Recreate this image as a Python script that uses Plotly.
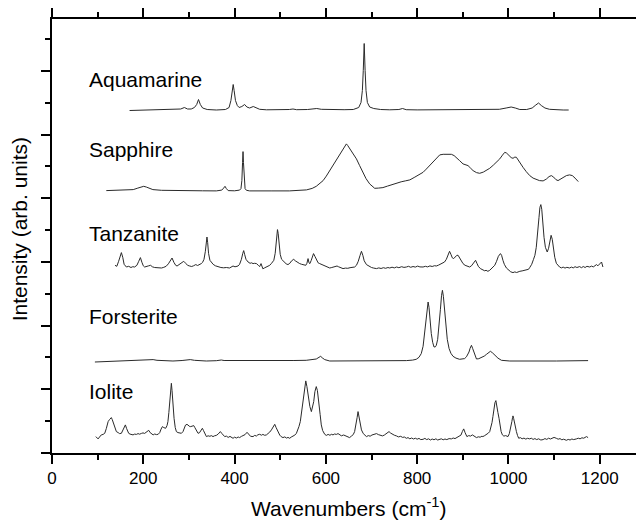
import plotly.graph_objects as go

# ---- data (wavenumber, intensity above each spectrum's own baseline) ----
names = ["Aquamarine", "Sapphire", "Tanzanite", "Forsterite", "Iolite"]
offsets = [342.5, 262.4, 183.7, 91.7, 16.4]
label_y = [374, 304, 220, 137, 62]

aq_x = [170, 200, 240, 270, 282, 290, 297, 305, 312, 317, 321, 325, 330, 340, 360, 380, 388, 392, 395, 397, 399, 402, 406, 410, 416, 422, 427, 433, 441, 447, 455, 470, 500, 520, 528, 536, 560, 572, 580, 590, 610, 640, 660, 672, 677, 680, 682, 684, 686, 688, 691, 696, 705, 720, 740, 760, 768, 776, 800, 850, 900, 950, 980, 995, 1006, 1015, 1025, 1040, 1052, 1060, 1066, 1072, 1080, 1090, 1100, 1120, 1132]
aq_h = [0, 0.3, 0.5, 0.8, 1.5, 3, 1.5, 1.5, 3, 6, 11, 6, 2.5, 1, 0.5, 1, 3, 10, 20, 26, 20, 10, 5, 3, 4, 6, 3.5, 2.5, 4, 2.5, 1.2, 0.7, 0.5, 1, 1.5, 0.8, 1, 1.5, 2, 1.2, 0.8, 0.8, 1, 3, 8, 20, 40, 67, 40, 20, 8, 3.5, 2, 1, 0.7, 1, 2, 0.8, 0.6, 0.6, 0.7, 0.8, 1.2, 2.5, 3.5, 2.5, 1, 1, 2.5, 5.5, 7.5, 5, 2.5, 1.2, 0.8, 0.5, 0.5]

sa_x = [119, 140, 165, 178, 188, 195, 201, 207, 214, 221, 240, 265, 300, 330, 360, 372, 376, 379, 382, 386, 400, 407.6, 411, 414, 416, 417.5, 418.5, 419.5, 421, 423, 426, 433, 480, 520, 557.5, 570, 579, 587, 594, 601, 608.5, 616, 623, 630, 637.6, 642, 645, 648, 652, 660, 667, 674, 681, 688, 696, 702, 707, 715, 725, 735, 742, 745, 747, 755, 765, 775, 784, 795, 805, 813, 820, 827.5, 835, 842, 849.5, 857, 866, 875, 881, 886, 893, 900.5, 906, 911.5, 917, 922.5, 930, 937, 945, 952, 959, 967, 974, 981, 987, 992, 996, 1001.5, 1006, 1010, 1014, 1017.5, 1022, 1027, 1032, 1039, 1046.7, 1054, 1061, 1068, 1076, 1083, 1089, 1094, 1099, 1104, 1108.7, 1114, 1121, 1127, 1134, 1140, 1146, 1153]
sa_h = [0, 0.3, 0.7, 1, 2.5, 3.8, 4.3, 3.5, 2, 1, 0.3, 0, 0, -0.2, -0.3, 0.5, 2.5, 4.3, 2, 0, -0.2, 0, 0.5, 2, 10, 28, 39, 28, 10, 2, 0.3, -0.3, -0.3, -0.3, 0.7, 2.2, 4.3, 7, 10, 14.5, 20, 25, 30, 35.5, 41.7, 45, 46.7, 45, 42.3, 37, 31.7, 25, 18.3, 12, 6.7, 3.8, 2.3, 2.5, 3, 4.5, 5.5, 6.7, 6.2, 7.5, 8.8, 9.8, 10.7, 13.5, 16, 18.3, 21.5, 25, 29, 32.5, 35.7, 36.3, 36.3, 36.3, 35, 33.3, 30, 26.7, 25.5, 25, 22.5, 20, 18, 17.3, 18.5, 20, 22.3, 25.5, 28.5, 31.7, 35.5, 38.3, 37.5, 35, 33, 32.3, 33.5, 33.3, 30, 26.5, 23.3, 19, 15, 12.5, 11, 10, 9.7, 11.5, 14, 15, 13.5, 11, 10, 11.5, 13.5, 15, 15.7, 15, 12.5, 9]

tz_x = [138, 142, 146, 149, 152, 155, 158, 163, 168, 173, 177, 181, 186, 190, 193.7, 197, 200, 203, 207, 212, 216, 220, 225, 230, 235, 240, 245, 250, 255, 259, 263, 267, 271, 274, 278, 283, 288.6, 293, 297, 301.7, 306, 310, 315, 319, 323, 327, 330, 333, 336, 338, 339.5, 341, 343, 346, 349, 353, 358, 364, 370, 376, 382, 389, 393, 396.6, 401, 404, 407.5, 411, 415, 418, 420, 422, 425, 429.6, 434, 437, 440.5, 444, 448, 452, 455, 458, 462, 466, 470, 474, 477, 481, 486, 489, 491, 493, 494, 495.5, 497.5, 500, 503, 505, 509, 513, 517, 521, 525, 529.6, 533, 537, 542.7, 547, 551, 556, 558.5, 561, 563, 565, 568, 571, 573, 576, 580, 583, 586.5, 590, 594, 597.5, 601, 605, 608.5, 613, 618, 621, 624.5, 628, 632, 637.6, 643, 648, 653, 658, 663, 667, 671, 675, 678, 681, 684, 689, 694, 700, 705, 711, 716, 721, 726, 731, 736, 740, 745, 750, 755, 760, 766, 771, 776.5, 781, 786, 791, 796, 801, 806, 813, 818, 823, 828, 833, 838, 842, 847, 851, 856, 860, 864, 868, 871, 874, 877, 880, 884, 887, 889.7, 893, 897, 900.5, 905, 910, 915, 919, 923, 926, 928, 931, 934, 938.6, 943, 948, 951, 955, 959, 963, 967, 970, 974, 978, 982.5, 985, 988, 991, 995.6, 1000, 1005, 1010, 1014, 1018, 1022, 1025, 1030, 1035, 1040, 1044, 1047, 1051, 1055, 1058, 1061, 1064, 1067, 1069, 1071, 1073, 1075, 1078, 1081, 1085, 1088, 1091, 1093.5, 1096, 1098.5, 1101.5, 1105, 1108, 1112, 1116, 1120, 1124, 1128, 1134, 1138, 1142, 1146, 1150, 1156, 1160, 1164, 1168, 1172, 1178, 1182, 1186, 1190, 1193, 1196, 1200, 1204, 1207]
tz_h = [4, 3, 8, 13, 16.7, 12, 5, 2.3, 3, 1.8, 2.6, 2.3, 4, 8, 11.7, 7, 3.5, 2.3, 3.2, 3.5, 4, 2.5, 1.8, 1.5, 1.2, 1.3, 2, 3, 5.5, 9, 11.3, 7, 4, 3.3, 4.5, 6.5, 8, 6, 4, 3.3, 2.8, 3.5, 4.7, 3.8, 4.5, 5.7, 7, 10, 18, 28, 32.3, 27, 16, 9, 7.3, 5, 3.5, 2.3, 1.8, 1.5, 1.8, 1.3, 2.2, 3.3, 2.5, 2.8, 3.3, 5, 10, 16, 18.7, 15, 10, 7.3, 6, 6.5, 5.7, 6, 5.7, 4, 2.7, 5.7, 0.5, 1.5, 2.5, 3.5, 4, 6, 9, 16, 27, 37, 39.7, 36, 25, 15, 10, 9, 6.5, 5.5, 4.7, 6, 8.5, 10, 8.5, 7, 5.7, 5, 4.5, 4, 6, 10.7, 6.5, 5.7, 9, 14, 15.7, 13, 9, 6.5, 5.7, 5, 4.6, 4, 3.2, 2, 1.3, 1.8, 2.5, 3, 3.3, 2.5, 1.6, 0.7, 1.2, 1, 1.6, 2, 2.3, 4, 8, 14, 18, 14, 8.5, 4.7, 3, 1.8, 1.2, 0.7, 1.4, 0.8, 1.6, 1, 1.8, 1.3, 2.1, 1.4, 2.3, 1.6, 2.6, 1.9, 2.3, 3, 2, 2.8, 2.2, 3.2, 2.4, 2.3, 3, 2.4, 3.4, 2.8, 3.6, 3.3, 4.2, 5, 6, 7.3, 10, 15, 18, 15, 11.5, 10.7, 12.5, 14, 14, 11, 8, 5.7, 4, 3, 2.3, 3.5, 6, 8.5, 9, 6, 3, 0.7, -0.5, -1.5, -1, -2, -1, 0.5, 2.5, 4, 8, 13, 15.7, 14, 9, 5, 1.3, -1, -2.5, -3.3, -2.6, -3.2, -2.2, -2, -1.6, -1.2, -0.6, 0, 2, 5, 10, 14, 22, 34, 52, 62, 64.7, 60, 48, 32, 22, 17.3, 21, 30, 34, 30, 21, 12, 6, 4, 2.3, 1.4, 2.2, 1.2, 2, 1.3, 2.2, 1.4, 2.6, 1.8, 2.7, 1.6, 2.8, 1.8, 3, 2.3, 3.2, 2.4, 3.8, 4.7, 3.5, 5.5, 7.3, 2.3]

fo_x = [94, 130, 170, 205, 215, 221.6, 230, 250, 265, 285, 295, 303, 312, 338, 360, 366, 371, 377, 404, 422, 429.5, 440, 484, 530, 557, 570, 579, 585, 588.7, 592, 597.5, 608.5, 650, 703, 740, 776.5, 790, 798, 804, 809, 813, 816.6, 820, 822, 824, 826, 828, 831, 834, 837, 840, 842, 845, 848, 851, 853.5, 855.4, 857.5, 860, 862.6, 866, 870, 874, 878.6, 885, 893, 900, 904, 908, 911, 913.6, 916, 919, 921.5, 924, 927, 930, 935, 941, 947, 952, 956, 960.5, 965, 970, 977, 984.7, 995, 1003, 1105, 1140, 1174.5]
fo_h = [-0.7, 0, 0.5, 1, 1.5, 1.7, 1, 0.5, 0.3, 0.8, 1.3, 1.7, 1, 0.3, 0.6, 1, 1.3, 0.8, 0.7, 0.8, 1, 0.7, 0.7, 0.8, 1, 1.5, 2.3, 4, 5, 3.5, 1.7, 0.3, 0.3, 0.3, 0.5, 0.7, 1.2, 2, 4, 7.7, 15, 31, 48, 56, 59.3, 54, 42, 27.7, 19, 14.3, 14.5, 16, 22, 34.3, 52, 66, 71, 65, 50, 37.7, 22, 12.7, 8, 5, 3.2, 2, 2.2, 2.7, 4.5, 7, 9.3, 13, 16, 13, 9.3, 5, 2.3, 2.6, 3.7, 5.2, 7, 8.8, 10, 8.5, 6, 3.2, 1, 0.5, 0.3, 0.3, 0.4, 0.7]

io_x = [96, 98, 101, 104, 108, 112, 115.5, 119, 123, 126, 128, 130, 132, 135, 138, 141, 145, 148, 152, 155, 158, 160.8, 163.5, 166, 168, 171, 174, 177.5, 181, 185, 188.5, 192, 196, 199.4, 203, 207, 211.9, 215, 218, 221.6, 225, 229, 232.6, 236, 239, 241.9, 245, 249, 252, 254, 256, 258, 260, 261.5, 263, 265, 267.4, 270, 272.5, 276, 280, 283.5, 287, 290, 292.5, 295.8, 299, 302, 304, 307, 310.5, 313, 316, 320, 323, 326, 329.5, 332, 335, 338.3, 342, 346, 349, 352.8, 356, 360, 364, 368.9, 372, 375, 378.4, 382, 386, 390, 393, 396.6, 400, 404, 408, 411, 415, 419, 423, 427.3, 431, 435, 440.5, 444, 448, 451, 455, 459, 462, 466, 469.8, 473, 477, 480.7, 484, 488, 491, 495.3, 499, 502, 506, 510, 514, 517, 520.8, 524, 528, 532, 535.5, 538, 541, 544, 547, 550, 553, 556, 558.5, 560.5, 562.5, 565, 568.3, 571, 573.4, 576, 579, 581.5, 585, 587.5, 590, 593, 597.5, 601, 605, 609, 612, 615.7, 619, 623, 626.7, 630.4, 634, 639, 645, 649, 652, 656, 660, 663, 666, 668.5, 670.5, 672.5, 675, 678, 682, 685, 689, 693, 697, 701, 706, 711, 715, 719, 724, 728, 732, 735, 738.4, 742, 746, 750, 754.6, 759, 764, 768, 772, 776.5, 780, 784, 788, 792, 796, 800, 804, 808, 813, 817, 821, 825, 829, 833, 837, 841, 845, 849.5, 853, 857, 861, 865, 870, 875, 879, 883, 888, 893, 896, 899, 902, 905, 909, 913, 917, 921, 925, 930, 934, 938, 942, 944, 948, 952, 956, 959, 962, 964, 966, 968, 970.5, 972.5, 974.5, 977, 979.4, 982, 984, 986.8, 990, 994, 999, 1002, 1004, 1005.7, 1007.5, 1009, 1010, 1011.5, 1013, 1015.3, 1017.5, 1020, 1022.6, 1026, 1030, 1034, 1038, 1042, 1046.7, 1050, 1054, 1058, 1062, 1066, 1071, 1076, 1080, 1084, 1088, 1092, 1096, 1100, 1105, 1109, 1113, 1117, 1121, 1127, 1131, 1135, 1139, 1143, 1149, 1153, 1157, 1161, 1165, 1168, 1171, 1174.5]
io_h = [0, -1, -2.3, -0.5, 1.7, 2.2, 3.3, 8, 15, 17, 18, 19, 17, 13.3, 8, 5, 4, 3, 3.3, 6, 9.5, 11.7, 8, 4.5, 3.3, 2.5, 1.8, 1.7, 2.5, 2.2, 3, 2.4, 3.2, 3.7, 3.2, 4.5, 6.3, 4, 2.5, 1.7, 2.6, 2, 2.3, 4, 7.5, 10, 9, 8.3, 11, 15, 24, 38, 49, 53.3, 46, 30, 18.3, 9, 5, 4, 3.6, 3.3, 5, 8, 11.5, 12.3, 11, 10, 10, 10.5, 11, 9, 6, 3.3, 3.8, 5.5, 8.3, 6, 2.5, 0, 0.8, 0.3, 1, 0, 0.8, 1.2, 2.5, 5, 3.2, 1.5, 0, 0.5, -0.8, 0.2, -1, -1.7, -0.6, -1.4, -0.4, -1, 0.2, 0.8, 2, 4.3, 1.8, 0.3, 0, 1.2, 0.6, 1.8, 2.3, 1.4, 2.2, 1.3, 1.7, 2.6, 4.5, 6.7, 9.5, 12.3, 9, 4.3, 1.5, 0, -1, -0.3, -1.5, -0.8, -1.7, -0.5, 0.4, 1.5, 3.3, 6, 10, 15, 26, 38.3, 50, 55.7, 50, 43, 38.3, 30, 25, 29, 35, 45, 50, 46, 35, 22, 11.7, 6, 2.3, 1.2, 2.2, 1.3, 2.3, 1.7, 2.6, 2.2, 3, 1.5, 0.8, 1.6, 0.7, -0.2, -1, 0.5, 2, 5, 11, 19, 25, 19, 11, 6.7, 3, 1.2, 0, 1, 0.4, 1.6, 2.2, 3, 2, 1.6, 0.7, 1.5, 2.6, 3.8, 5, 3.5, 2.2, 1.4, 0.7, -0.3, 0.3, -0.8, -0.4, -1.7, -1, -2.2, -1.4, -2.4, -1.6, -2.6, -1.8, -3, -2.7, -1.8, -3, -2.2, -3.4, -2.4, -3.2, -2.2, -3.4, -3, -2.2, -3.2, -2.4, -3, -2, -2.3, -1.4, -2, -0.8, 0, 1.5, 5, 7.7, 4, 0, 1, 0.5, 1.7, 0.4, -1, -0.2, -0.6, 0.4, 0, 1, 2, 3.5, 5, 9, 14, 20, 27, 34, 36, 32, 24, 18.3, 10, 5, 1.7, 0.5, 1, 0, 3, 6.5, 10, 15, 19, 20.7, 18, 14, 10, 5, 1, -1.7, -1, -2.2, -1.5, -2.5, -1.7, -2.3, -1.6, -2.8, -2, -3, -2.2, -3.4, -3, -2, -2.8, -1.6, -2.4, -1.2, -0.8, -1.7, -2.6, -2, -3.2, -2.6, -3.7, -2.8, -3.4, -2.4, -3, -2.3, -1.6, -2.2, -1.2, -1.6, -0.5, 0, -1]

spectra_x = [aq_x, sa_x, tz_x, fo_x, io_x]
spectra_h = [aq_h, sa_h, tz_h, fo_h, io_h]

x_ticks = [0, 200, 400, 600, 800, 1000, 1200]

# ---- figure ----
FONT = "Arial, Liberation Sans, Helvetica, sans-serif"
fig = go.Figure()
for nm, xs, hs, off in zip(names, spectra_x, spectra_h, offsets):
    fig.add_trace(go.Scatter(x=xs, y=[off + h for h in hs], mode="lines", name=nm,
                             line=dict(color="#2a2a2a", width=1), hoverinfo="skip",
                             showlegend=False))

for nm, ly in zip(names, label_y):
    fig.add_annotation(x=77, y=ly, xref="x", yref="y", text=nm, showarrow=False,
                       xanchor="left", yanchor="middle",
                       font=dict(family=FONT, size=21, color="black"))

fig.add_annotation(x=0.5086, y=-0.125, xref="paper", yref="paper",
                   text="Wavenumbers (cm<sup>-1</sup>)", showarrow=False,
                   xanchor="center", yanchor="middle",
                   font=dict(family=FONT, size=21, color="black"))
fig.add_annotation(x=-0.055, y=0.515, xref="paper", yref="paper",
                   text="Intensity (arb. units)", showarrow=False, textangle=-90,
                   xanchor="center", yanchor="middle",
                   font=dict(family=FONT, size=21, color="black"))

fig.update_layout(
    width=636, height=524,
    margin=dict(l=52, r=0, t=19, b=71),
    paper_bgcolor="white", plot_bgcolor="white",
    font=dict(family=FONT, color="black"),
)
fig.update_xaxes(
    range=[0, 1279.5], tickvals=x_ticks, ticktext=[str(v) for v in x_ticks],
    showgrid=False, zeroline=False, showline=True, linecolor="black", linewidth=2,
    ticks="outside", ticklen=9, tickwidth=2, tickcolor="black", mirror="ticks",
    tickfont=dict(family=FONT, size=17, color="black"),
    minor=dict(dtick=100, tick0=0, ticks="outside", ticklen=5, tickwidth=2, tickcolor="black", showgrid=False),
)
fig.update_yaxes(
    range=[0, 434], tick0=0, dtick=63.7, showticklabels=False,
    showgrid=False, zeroline=False, showline=True, linecolor="black", linewidth=2,
    ticks="outside", ticklen=9, tickwidth=2, tickcolor="black",
    minor=dict(dtick=31.85, tick0=0, ticks="outside", ticklen=5, tickwidth=2, tickcolor="black", showgrid=False),
)

fig.write_html("out.html")
